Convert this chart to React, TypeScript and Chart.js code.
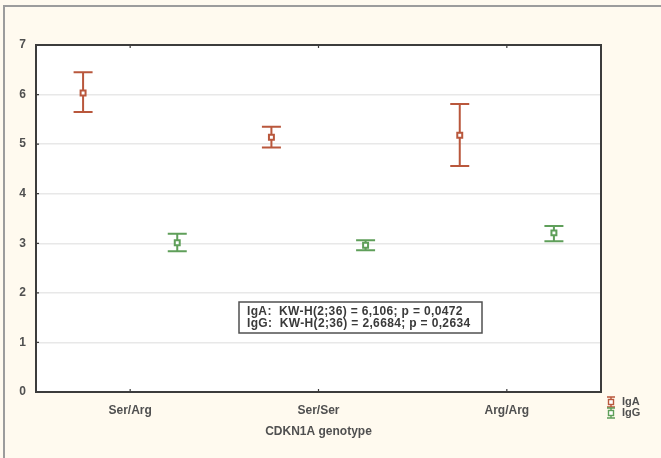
import React, { useEffect, useRef } from "react";
import { Chart, registerables } from "chart.js";

Chart.register(...registerables);

const categories = ["Ser/Arg", "Ser/Ser", "Arg/Arg"];
const igaMean = [6.03, 5.14, 5.18];
const igaUpper = [6.45, 5.35, 5.81];
const igaLower = [5.65, 4.93, 4.56];
const iggMean = [3.01, 2.96, 3.21];
const iggUpper = [3.19, 3.06, 3.35];
const iggLower = [2.84, 2.86, 3.04];
const yTicks = [0, 1, 2, 3, 4, 5, 6, 7];
const seriesLabels = ["IgA", "IgG"];
const statLines = [
  "IgA:  KW-H(2;36) = 6,106; p = 0,0472",
  "IgG:  KW-H(2;36) = 2,6684; p = 0,2634",
];
const xAxisTitle = "CDKN1A genotype";

const IGA_COLOR = "#b9573c";
const IGG_COLOR = "#5f9f5a";
const FONT = "'Liberation Sans', Arial, sans-serif";
const TEXT_COLOR = "#505050";

const errorBars = [
  { upper: igaUpper, lower: igaLower, color: IGA_COLOR },
  { upper: iggUpper, lower: iggLower, color: IGG_COLOR },
];

const decorPlugin = {
  id: "decor",
  beforeDraw(chart: any) {
    const { ctx, width, height, chartArea: ca } = chart;
    ctx.save();
    ctx.fillStyle = "#fffaef";
    ctx.fillRect(0, 0, width, height);
    ctx.strokeStyle = "#9c9c9c";
    ctx.lineWidth = 2;
    ctx.beginPath();
    ctx.moveTo(4, height);
    ctx.lineTo(4, 6);
    ctx.lineTo(width, 6);
    ctx.stroke();
    ctx.fillStyle = "#ffffff";
    ctx.fillRect(ca.left, ca.top, ca.right - ca.left, ca.bottom - ca.top);
    ctx.restore();
  },
  beforeDatasetsDraw(chart: any) {
    const { ctx, scales } = chart;
    const xs = scales.x;
    const ys = scales.y;
    ctx.save();
    chart.data.datasets.forEach((ds: any, di: number) => {
      const eb = errorBars[di];
      ctx.strokeStyle = eb.color;
      ctx.lineWidth = 2;
      ds.data.forEach((p: any, i: number) => {
        const px = xs.getPixelForValue(p.x);
        const yt = ys.getPixelForValue(eb.upper[i]);
        const yb = ys.getPixelForValue(eb.lower[i]);
        const half = 9.5;
        ctx.beginPath();
        ctx.moveTo(px, yt);
        ctx.lineTo(px, yb);
        ctx.moveTo(px - half, yt);
        ctx.lineTo(px + half, yt);
        ctx.moveTo(px - half, yb);
        ctx.lineTo(px + half, yb);
        ctx.stroke();
      });
    });
    ctx.restore();
  },
  afterDraw(chart: any) {
    const { ctx, chartArea: ca, scales } = chart;
    const xs = scales.x;
    const ys = scales.y;
    ctx.save();
    // frame
    ctx.strokeStyle = "#3c3c3c";
    ctx.lineWidth = 2;
    ctx.strokeRect(ca.left, ca.top, ca.right - ca.left, ca.bottom - ca.top);
    // inner ticks
    ctx.lineWidth = 1.2;
    ctx.beginPath();
    categories.forEach((_, i) => {
      const px = xs.getPixelForValue(i);
      ctx.moveTo(px, ca.top);
      ctx.lineTo(px, ca.top + 3);
      ctx.moveTo(px, ca.bottom);
      ctx.lineTo(px, ca.bottom - 3);
    });
    yTicks.forEach((v) => {
      const py = ys.getPixelForValue(v);
      ctx.moveTo(ca.left, py);
      ctx.lineTo(ca.left + 3, py);
    });
    ctx.stroke();

    // stats box
    const bx = ca.left + 203;
    const by = ca.top + 257;
    const bw = 243;
    const bh = 31;
    ctx.fillStyle = "#ffffff";
    ctx.fillRect(bx, by, bw, bh);
    ctx.strokeStyle = "#505050";
    ctx.lineWidth = 1.5;
    ctx.strokeRect(bx, by, bw, bh);
    ctx.fillStyle = "#3a3a3a";
    ctx.font = `bold 12px ${FONT}`;
    try {
      (ctx as any).letterSpacing = "0.35px";
    } catch (e) {}
    ctx.textBaseline = "middle";
    ctx.textAlign = "left";
    statLines.forEach((t, i) => {
      ctx.fillText(t, bx + 8, by + 10 + i * 12);
    });
    try {
      (ctx as any).letterSpacing = "0px";
    } catch (e) {}

    // legend
    const lx = ca.right + 10;
    chart.data.datasets.forEach((ds: any, i: number) => {
      const cy = ca.bottom + 10 + i * 11;
      ctx.strokeStyle = ds.borderColor;
      ctx.lineWidth = 1.4;
      ctx.beginPath();
      ctx.moveTo(lx - 4, cy - 5);
      ctx.lineTo(lx + 4, cy - 5);
      ctx.moveTo(lx - 4, cy + 5);
      ctx.lineTo(lx + 4, cy + 5);
      ctx.moveTo(lx, cy - 5);
      ctx.lineTo(lx, cy + 5);
      ctx.stroke();
      ctx.fillStyle = "#ffffff";
      ctx.fillRect(lx - 2.5, cy - 2.5, 5, 5);
      ctx.strokeRect(lx - 2.5, cy - 2.5, 5, 5);
      ctx.fillStyle = TEXT_COLOR;
      ctx.font = `bold 11px ${FONT}`;
      ctx.textBaseline = "middle";
      ctx.fillText(ds.label, lx + 11, cy);
    });
    ctx.restore();
  },
};

export default function App() {
  const ref = useRef<HTMLCanvasElement | null>(null);
  useEffect(() => {
    if (!ref.current) return;
    const chart = new Chart(ref.current, {
      type: "scatter",
      data: {
        datasets: [
          {
            label: seriesLabels[0],
            data: igaMean.map((y, i) => ({ x: i - 0.25, y })),
            borderColor: IGA_COLOR,
            backgroundColor: "#ffffff",
            pointStyle: "rect",
            pointRadius: 3.5,
            borderWidth: 2,
          },
          {
            label: seriesLabels[1],
            data: iggMean.map((y, i) => ({ x: i + 0.25, y })),
            borderColor: IGG_COLOR,
            backgroundColor: "#ffffff",
            pointStyle: "rect",
            pointRadius: 3.5,
            borderWidth: 2,
          },
        ],
      },
      options: {
        animation: false,
        responsive: false,
        layout: { padding: { left: 0, top: 45, right: 60, bottom: 0 } },
        plugins: { legend: { display: false }, tooltip: { enabled: false } },
        scales: {
          x: {
            type: "linear",
            min: -0.5,
            max: 2.5,
            afterBuildTicks: (s: any) => {
              s.ticks = categories.map((_, i) => ({ value: i }));
            },
            afterFit: (s: any) => {
              s.height = 66;
            },
            grid: { display: false, drawTicks: false },
            border: { display: false },
            ticks: {
              padding: 11,
              color: TEXT_COLOR,
              font: { family: FONT, size: 12, weight: "bold" },
              callback: (v: any) => categories[Math.round(Number(v))] ?? "",
              maxRotation: 0,
            },
            title: {
              display: true,
              text: xAxisTitle,
              color: TEXT_COLOR,
              font: { family: FONT, size: 12, weight: "bold" },
              padding: { top: 0, bottom: 19 },
            },
          },
          y: {
            min: 0,
            max: 7,
            afterBuildTicks: (s: any) => {
              s.ticks = yTicks.map((v) => ({ value: v }));
            },
            afterFit: (s: any) => {
              s.width = 36;
            },
            grid: { color: "#e8e8e8", lineWidth: 1.5, drawTicks: false },
            border: { display: false },
            ticks: {
              padding: 10,
              color: TEXT_COLOR,
              font: { family: FONT, size: 12, weight: "bold" },
            },
          },
        },
      },
      plugins: [decorPlugin],
    } as any);
    return () => chart.destroy();
  }, []);
  return (
    <div style={{ position: "absolute", left: 0, top: 0, width: 661, height: 458 }}>
      <canvas ref={ref} width={661} height={458} style={{ display: "block" }} />
    </div>
  );
}
